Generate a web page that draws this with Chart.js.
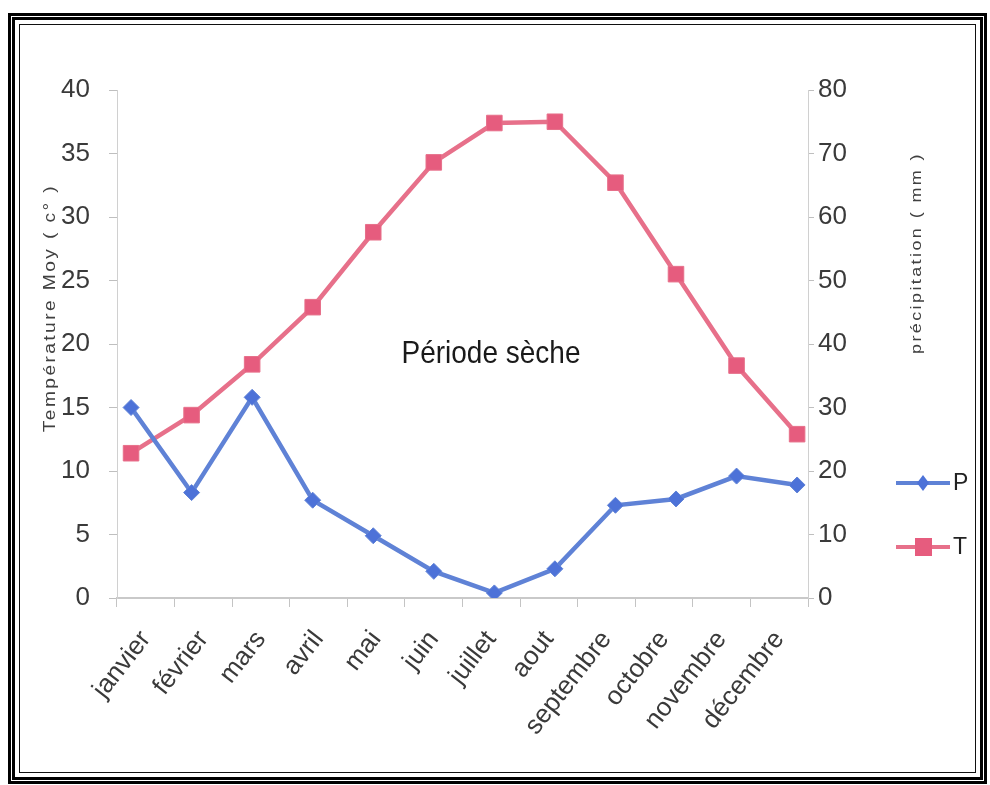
<!DOCTYPE html>
<html lang="fr">
<head>
<meta charset="utf-8">
<title>Diagramme ombrothermique</title>
<script src="https://cdn.jsdelivr.net/npm/chart.js@4.4.1/dist/chart.umd.min.js"></script>
<style>
    html, body { margin: 0; padding: 0; background: #fff; }
    #wrap { position: relative; width: 990px; height: 785px; overflow: hidden; background: #fff; }
    #graphique { position: absolute; left: 0; top: 0; }
    .cadre { position: absolute; box-sizing: border-box; pointer-events: none; }
    #cadre1 { left: 8px; top: 13px; width: 979px; height: 771px; border: 3px solid #000; }
    #cadre2 { left: 12px; top: 17px; width: 971px; height: 763px; border: 3px solid #000; }
    #cadre3 { left: 19px; top: 24px; width: 957px; height: 749px; border: 1.5px solid #111; }
</style>
</head>
<body>
<div id="wrap">
    <canvas id="graphique" width="990" height="785"></canvas>
    <div class="cadre" id="cadre1"></div>
    <div class="cadre" id="cadre2"></div>
    <div class="cadre" id="cadre3"></div>
</div>
<script>
const mois = ['janvier', 'février', 'mars', 'avril', 'mai', 'juin', 'juillet', 'aout', 'septembre', 'octobre', 'novembre', 'décembre'];
const precipitations = [30, 16.6, 31.6, 15.4, 9.8, 4.2, 0.8, 4.6, 14.6, 15.6, 19.2, 17.8];
const temperatures = [11.4, 14.4, 18.4, 22.9, 28.8, 34.3, 37.4, 37.5, 32.7, 25.5, 18.3, 12.9];
const ticksTemperature = [0, 5, 10, 15, 20, 25, 30, 35, 40];
const ticksPrecipitation = [0, 10, 20, 30, 40, 50, 60, 70, 80];

const titreTemperature = 'Température Moy ( c° )';
const titrePrecipitation = 'précipitation ( mm )';
const texteSeche = 'Période sèche';

const police = '"Liberation Sans Narrow", "Liberation Sans", Arial, sans-serif';
const policeTexte = '"Liberation Sans", Arial, sans-serif';

// titres d'axes, texte "Période sèche" et légende
const decor = {
    id: 'decor',
    afterDraw(chart) {
        const ctx = chart.ctx;

        ctx.save();
        ctx.fillStyle = '#404040';
        ctx.font = '16px ' + policeTexte;
        ctx.letterSpacing = '2px';
        ctx.textAlign = 'center';
        ctx.textBaseline = 'middle';
        ctx.translate(51, 308);
        ctx.rotate(-Math.PI / 2);
        ctx.scale(1.2, 1);
        ctx.fillText(titreTemperature, 0, 0);
        ctx.restore();

        ctx.save();
        ctx.fillStyle = '#404040';
        ctx.font = '15px ' + policeTexte;
        ctx.letterSpacing = '2px';
        ctx.textAlign = 'center';
        ctx.textBaseline = 'middle';
        ctx.translate(917, 253);
        ctx.rotate(-Math.PI / 2);
        ctx.scale(1.2, 1);
        ctx.fillText(titrePrecipitation, 0, 0);
        ctx.restore();

        ctx.save();
        ctx.fillStyle = '#1a1a1a';
        ctx.font = '28px ' + policeTexte;
        ctx.textAlign = 'center';
        ctx.textBaseline = 'middle';
        ctx.translate(491, 354);
        ctx.scale(1, 1.15);
        ctx.fillText(texteSeche, 0, 0);
        ctx.restore();

        // légende
        chart.data.datasets.forEach((ds, i) => {
            const y = 483 + i * 64;
            ctx.save();
            ctx.strokeStyle = ds.borderColor;
            ctx.lineWidth = 4;
            ctx.beginPath();
            ctx.moveTo(896, y);
            ctx.lineTo(950, y);
            ctx.stroke();
            ctx.fillStyle = ds.backgroundColor;
            ctx.beginPath();
            if (ds.pointStyle === 'rectRot') {
                ctx.moveTo(923, y - 8);
                ctx.lineTo(929, y);
                ctx.lineTo(923, y + 8);
                ctx.lineTo(917, y);
            } else {
                ctx.rect(915, y - 9, 17, 18);
            }
            ctx.closePath();
            ctx.fill();
            ctx.fillStyle = '#222';
            ctx.font = '23px ' + police;
            ctx.textAlign = 'left';
            ctx.textBaseline = 'middle';
            ctx.fillText(ds.label, 953, y + 1);
            ctx.restore();
        });
    }
};

const ctx = document.getElementById('graphique');

new Chart(ctx, {
    type: 'line',
    data: {
        labels: mois,
        datasets: [
            {
                label: 'P',
                data: mois.map((m, i) => ({ x: i, y: precipitations[i] })),
                xAxisID: 'xd',
                yAxisID: 'y1',
                borderColor: '#5f82d6',
                backgroundColor: '#4d72d8',
                borderWidth: 4.5,
                pointStyle: 'rectRot',
                pointRadius: 8,
                pointBorderWidth: 1,
                tension: 0
            },
            {
                label: 'T',
                data: mois.map((m, i) => ({ x: i, y: temperatures[i] })),
                xAxisID: 'xd',
                yAxisID: 'y',
                borderColor: '#e7708a',
                backgroundColor: '#e65c7e',
                borderWidth: 4.5,
                pointStyle: 'rect',
                pointRadius: 11,
                pointBorderWidth: 1,
                tension: 0
            }
        ]
    },
    options: {
        responsive: false,
        animation: false,
        layout: { padding: { top: 90, left: 0, right: 0, bottom: 0 } },
        scales: {
            x: {
                type: 'category',
                position: 'bottom',
                offset: true,
                grid: { offset: true, drawOnChartArea: false, drawTicks: true, tickLength: 9, color: '#c4c4c4' },
                border: { color: '#c9c9c9', width: 2 },
                ticks: {
                    color: '#3a3a3a',
                    font: { family: police, size: 26 },
                    minRotation: 52,
                    maxRotation: 52,
                    autoSkip: false,
                    padding: 18
                },
                afterFit: (s) => { s.height = 785 - 598; }
            },
            xd: {
                type: 'linear',
                display: false,
                min: -0.232,
                max: 11.18
            },
            y: {
                position: 'left',
                min: 0,
                max: 40,
                afterBuildTicks: (s) => { s.ticks = ticksTemperature.map(v => ({ value: v })); },
                grid: { drawOnChartArea: false, tickLength: 8, color: '#bfbfbf' },
                border: { color: '#d0d0d0' },
                ticks: { color: '#3a3a3a', font: { family: police, size: 26 }, padding: 19 },
                afterFit: (s) => { s.width = 117; }
            },
            y1: {
                position: 'right',
                min: 0,
                max: 80,
                afterBuildTicks: (s) => { s.ticks = ticksPrecipitation.map(v => ({ value: v })); },
                grid: { drawOnChartArea: false, tickLength: 6, color: '#bfbfbf' },
                border: { color: '#d0d0d0' },
                ticks: { color: '#3a3a3a', font: { family: police, size: 26 }, padding: 4 },
                afterFit: (s) => { s.width = 990 - 808; }
            }
        },
        plugins: {
            legend: { display: false },
            tooltip: { enabled: false }
        }
    },
    plugins: [decor]
});
</script>
</body>
</html>
